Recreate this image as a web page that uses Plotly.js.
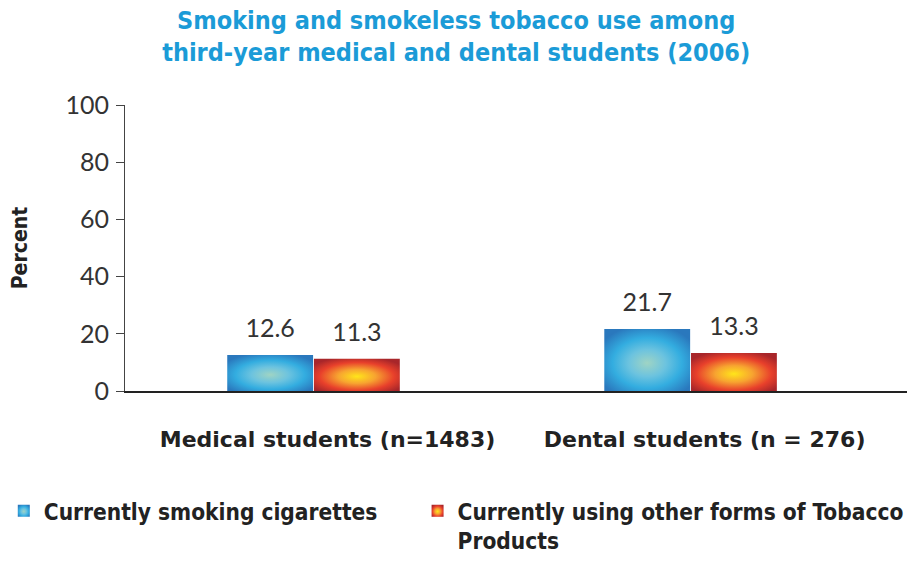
<!DOCTYPE html>
<html><head><meta charset="utf-8">
<script src="https://cdn.plot.ly/plotly-3.0.1.min.js"></script>
<style>html,body{margin:0;padding:0;background:#fff}#chart{width:907px;height:561px}</style>
</head><body><div id="chart"></div>
<script>
const categories = ["Medical students (n=1483)", "Dental students (n = 276)"];
const cigarettes = [12.6, 21.7];
const otherTobacco = [11.3, 13.3];
const seriesNames = ["Currently smoking cigarettes", "Currently using other forms of Tobacco<br>Products"];
const yTicks = [0, 20, 40, 60, 80, 100];

const labelFont = {family: "Lato, 'Noto Sans', sans-serif", size: 25, color: "#333"};
const traces = [
  {type: "bar", x: categories, y: cigarettes, name: seriesNames[0] + "\u00a0".repeat(5),
   marker: {color: "#3aa7dc"}, text: cigarettes.map(v => v.toFixed(1)),
   textposition: "outside", textfont: labelFont, cliponaxis: false, hoverinfo: "skip"},
  {type: "bar", x: categories, y: otherTobacco, name: seriesNames[1],
   marker: {color: "#e8452a"}, text: otherTobacco.map(v => v.toFixed(1)),
   textposition: "outside", textfont: labelFont, cliponaxis: false, hoverinfo: "skip"}
];

const layout = {
  width: 907, height: 561,
  margin: {l: 125, r: 0, t: 105, b: 170, autoexpand: false},
  paper_bgcolor: "#fff", plot_bgcolor: "#fff",
  barmode: "group", bargap: 0.54, bargroupgap: 0.01,
  showlegend: true,
  title: {text: "Smoking and smokeless tobacco use among<br>third-year medical and dental students (2006)",
    font: {family: "'DejaVu Sans Condensed', sans-serif", size: 25, color: "#1b9bd7", weight: "bold"},
    x: 0.503, xref: "container", xanchor: "center", y: 0.949, yref: "container", yanchor: "top"},
  xaxis: {type: "category", range: [-0.5, 1.574], showline: true, linecolor: "#222", linewidth: 1.5,
    ticks: "", showgrid: false, zeroline: false, ticklabelstandoff: 28, ticklabelshift: 14, automargin: false,
    tickfont: {family: "'DejaVu Sans', sans-serif", size: 22, color: "#222", weight: "bold"}},
  yaxis: {range: [0, 100], tickvals: yTicks, ticktext: yTicks.map(String), automargin: false,
    showline: true, linecolor: "#444", linewidth: 1, ticks: "outside", ticklen: 8, tickcolor: "#444",
    showgrid: false, zeroline: false, ticklabelstandoff: 2,
    tickfont: {family: "Lato, 'Noto Sans', sans-serif", size: 25, color: "#333"},
    title: {text: "Percent", standoff: 32, font: {family: "'DejaVu Sans Condensed', sans-serif", size: 21, color: "#222", weight: "bold"}}},
  legend: {orientation: "h", x: -0.155, xanchor: "left", y: -0.345, yanchor: "top",
    font: {family: "'DejaVu Sans Condensed', sans-serif", size: 22.5, color: "#222", weight: "bold"},
    itemwidth: 30, valign: "top", traceorder: "normal"}
};

Plotly.newPlot("chart", traces, layout, {staticPlot: true}).then(gd => {
  const svg = gd.querySelector("svg.main-svg");
  const ns = "http://www.w3.org/2000/svg";
  let defs = svg.querySelector("defs");
  function grad(id, stops) {
    const g = document.createElementNS(ns, "radialGradient");
    g.setAttribute("id", id); g.setAttribute("cx", "0.5"); g.setAttribute("cy", "0.55"); g.setAttribute("r", "0.62");
    stops.forEach(([o, c]) => { const s = document.createElementNS(ns, "stop"); s.setAttribute("offset", o); s.setAttribute("stop-color", c); g.appendChild(s); });
    defs.appendChild(g);
  }
  grad("gBlue", [["0", "#9fd4c4"], ["0.35", "#6cc3df"], ["0.65", "#33ade0"], ["1", "#2a78bd"]]);
  grad("gRed", [["0", "#ffe51a"], ["0.35", "#f7a430"], ["0.7", "#e8402b"], ["1", "#a8262a"]]);
  const groups = gd.querySelectorAll(".barlayer .trace.bars");
  groups.forEach((tg, i) => {
    tg.querySelectorAll("path").forEach(p => { p.style.fill = i === 0 ? "url(#gBlue)" : "url(#gRed)"; });
  });
  gd.querySelectorAll(".legend .traces").forEach((t, i) => {
    t.querySelectorAll(".legendpoints path").forEach(p => { p.style.fill = i === 0 ? "url(#gBlue)" : "url(#gRed)"; });
  });
  gd.querySelectorAll(".bartext").forEach(t => {
    const tr = t.getAttribute("transform") || "";
    t.setAttribute("transform", "translate(0,-10) " + tr);
  });
});
</script>
</body></html>
